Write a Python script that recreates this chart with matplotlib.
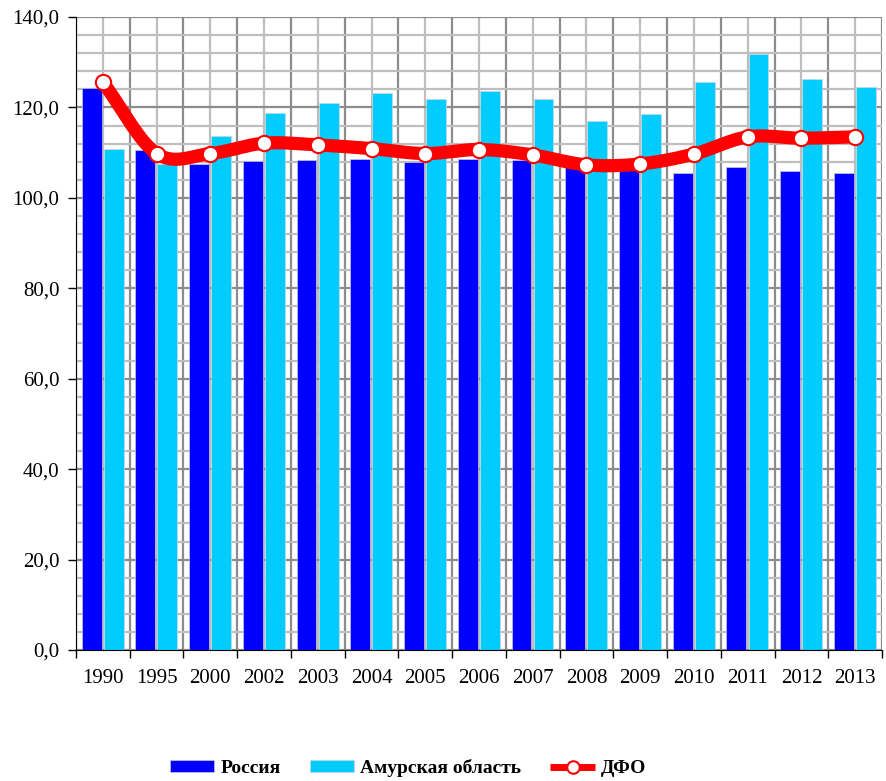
import numpy as np
import matplotlib
matplotlib.use("Agg")
import matplotlib.pyplot as plt
from matplotlib.ticker import MultipleLocator, FixedLocator

years = ['1990', '1995', '2000', '2002', '2003', '2004', '2005', '2006',
         '2007', '2008', '2009', '2010', '2011', '2012', '2013']
rossiya = [124.3, 110.6, 107.6, 108.1, 108.4, 108.6, 108.0, 108.5,
           108.4, 107.2, 106.5, 105.5, 106.9, 105.9, 105.6]
amur = [110.9, 107.5, 113.6, 118.8, 121.0, 123.2, 121.8, 123.7,
        121.9, 117.0, 118.5, 125.6, 131.9, 126.2, 124.5]
dfo = [125.6, 109.8, 109.8, 112.1, 111.7, 110.9, 109.8, 110.7,
       109.5, 107.3, 107.5, 109.7, 113.5, 113.2, 113.5]

plt.rcParams['font.family'] = ['Liberation Serif', 'DejaVu Serif']
plt.rcParams['lines.solid_capstyle'] = 'butt'


def smooth(xs, ys, n=20):
    # catmull-rom, похоже на сглаженную линию Excel
    xs = np.asarray(xs, float)
    ys = np.asarray(ys, float)
    px = np.concatenate([[2 * xs[0] - xs[1]], xs, [2 * xs[-1] - xs[-2]]])
    py = np.concatenate([[2 * ys[0] - ys[1]], ys, [2 * ys[-1] - ys[-2]]])
    ox, oy = [], []
    for i in range(1, len(px) - 2):
        t = np.linspace(0, 1, n, endpoint=False)
        for p, o in ((px, ox), (py, oy)):
            p0, p1, p2, p3 = p[i - 1], p[i], p[i + 1], p[i + 2]
            o.extend(0.5 * (2 * p1 + (-p0 + p2) * t
                            + (2 * p0 - 5 * p1 + 4 * p2 - p3) * t ** 2
                            + (-p0 + 3 * p1 - 3 * p2 + p3) * t ** 3))
    ox.append(xs[-1])
    oy.append(ys[-1])
    return np.array(ox), np.array(oy)


fig = plt.figure(figsize=(8.87, 7.81), dpi=100)
ax = fig.add_axes([0.0857, 0.1677, 0.9087, 0.8105])

x = np.arange(len(years))
w = 0.37
ax.bar(x - 0.21, rossiya, w, color='#0000FF', edgecolor='#C8C8D8', linewidth=0.5, zorder=2, label='Россия')
ax.bar(x + 0.2, amur, w, color='#00CCFF', edgecolor='#C8D8E0', linewidth=0.5, zorder=2, label='Амурская область')

sx, sy = smooth(x, dfo)
ax.plot(sx, sy, color='#FF0000', linewidth=9.5, solid_capstyle='round', zorder=3)
ax.plot(x, dfo, linestyle='none', marker='o', markersize=11, markerfacecolor='white',
        markeredgecolor='#FF0000', markeredgewidth=1.5, zorder=4)
line_handle = plt.Line2D([], [], color='#FF0000', linewidth=5, marker='o', markersize=9,
                         markerfacecolor='white', markeredgecolor='#FF0000', markeredgewidth=1.5)

ax.set_xlim(-0.5, len(years) - 0.5)
ax.set_ylim(0, 140)

ax.xaxis.set_major_locator(FixedLocator(np.arange(-0.5, len(years), 1.0)))
ax.xaxis.set_minor_locator(FixedLocator(x))
ax.set_xticklabels([''] * (len(years) + 1))
ax.set_xticklabels(years, minor=True)
ax.tick_params(axis='x', which='major', length=6, width=1, color='black', direction='out')
ax.tick_params(axis='x', which='minor', tick1On=False, tick2On=False, pad=12, labelsize=15)

ax.set_yticks(np.arange(0, 141, 20))
ax.set_yticklabels([f'{v:.1f}'.replace('.', ',') for v in np.arange(0, 141, 20)])
ax.yaxis.set_minor_locator(MultipleLocator(4))
ax.tick_params(axis='y', which='major', length=6, width=1, direction='out', labelsize=15, pad=6)
ax.tick_params(axis='y', which='minor', tick1On=False, tick2On=False)

ax.set_axisbelow(True)
ax.grid(which='major', color='#8C8C8C', linewidth=1.6)
ax.grid(which='minor', color='#BEBEBE', linewidth=1.6)

ax.spines['top'].set_visible(False)
ax.spines['right'].set_visible(False)
ax.spines['left'].set_color('black')
ax.spines['bottom'].set_color('black')

handles, labels = ax.get_legend_handles_labels()
handles.append(line_handle)
labels.append('ДФО')
fig.legend(handles, labels, loc='center', bbox_to_anchor=(0.46, 0.0166), ncol=3,
           frameon=False, handlelength=2.3, handleheight=0.6, columnspacing=1.5,
           handletextpad=0.3, borderpad=0, prop={'weight': 'bold', 'size': 14})

fig.savefig('out.png', dpi=100)
